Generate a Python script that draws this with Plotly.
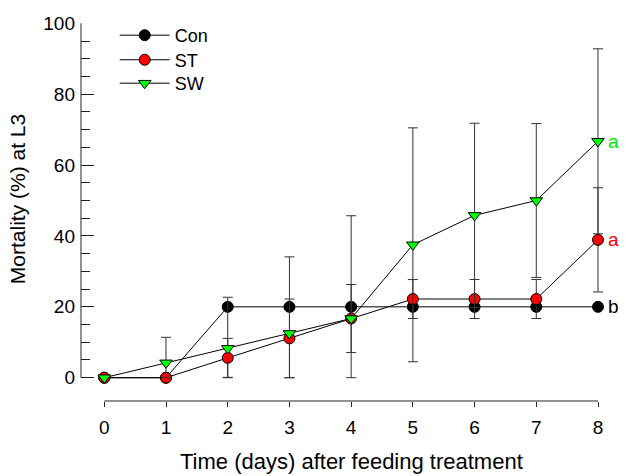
import numpy as np
import plotly.graph_objects as go

days = [0, 1, 2, 3, 4, 5, 6, 7, 8]
con = [0, 0, 20, 20, 20, 20, 20, 20, 20]
con_err = [0, 0, 0, 0, 0, 0, 0, 0, 0]
st = [0, 0, 5.6, 11.1, 16.7, 22.2, 22.2, 22.2, 38.9]
st_err = [0, 0, 5.5, 11.1, 9.6, 5.5, 5.5, 5.5, 14.7]
sw = [0, 4.2, 8.3, 12.5, 16.7, 37.5, 45.8, 50.0, 66.7]
sw_err = [0, 7.2, 14.4, 21.6, 29.0, 33.0, 26.0, 21.7, 26.1]

x_ticks = [0, 1, 2, 3, 4, 5, 6, 7, 8]
y_ticks = [0, 20, 40, 60, 80, 100]
y_minor = [5, 10, 15, 25, 30, 35, 45, 50, 55, 65, 70, 75, 85, 90, 95]

letters = [("b", con[-1], "black"), ("a", st[-1], "#ff0000"), ("a", sw[-1], "#00e800")]

FONT = "Liberation Sans, Arial, sans-serif"

def series(name, y, err, color, symbol, legend):
    y = np.array(y, dtype=float)
    e = np.array(err, dtype=float)
    return go.Scatter(
        x=days, y=y, name=name, mode="lines+markers", legend=legend,
        line=dict(color="black", width=1),
        marker=dict(color=color, symbol=symbol, size=11,
                    line=dict(color="black", width=1)),
        error_y=dict(type="data", symmetric=False, array=e, arrayminus=np.minimum(e, y),
                     color="#333333", thickness=1, width=5),
        cliponaxis=False,
    )

fig = go.Figure()
fig.add_trace(series("Con", con, con_err, "black", "circle", "legend"))
fig.add_trace(series("ST", st, st_err, "#ff0000", "circle", "legend2"))
fig.add_trace(series("SW", sw, sw_err, "#00ff00", "triangle-down", "legend3"))

for txt, yv, col in letters:
    fig.add_annotation(x=days[-1], y=yv, text=txt, showarrow=False, xanchor="left",
                       xshift=8, font=dict(family=FONT, size=19, color=col))

# axis titles
fig.add_annotation(xref="paper", yref="paper", x=0.5056, y=-0.161, text="Time (days) after feeding treatment",
                   showarrow=False, xanchor="center", yanchor="middle", font=dict(family=FONT, size=22))
fig.add_annotation(xref="paper", yref="paper", x=-0.1196, y=0.534, text="Mortality (%) at L3", textangle=-90,
                   showarrow=False, xanchor="center", yanchor="middle", font=dict(family=FONT, size=21))

# axis lines (offset style)
fig.add_shape(type="line", xref="paper", yref="y", x0=0, x1=0, y0=0, y1=100,
              line=dict(color="#222222", width=1))
fig.add_shape(type="line", xref="x", yref="paper", x0=0, x1=8, y0=0, y1=0,
              line=dict(color="#222222", width=1))

leg_common = dict(xanchor="left", yanchor="middle", font=dict(family=FONT, size=18),
                  bgcolor="rgba(0,0,0,0)", itemwidth=50)
fig.update_layout(
    width=626, height=476,
    margin=dict(l=81, r=10, t=23, b=75),
    plot_bgcolor="white", paper_bgcolor="white",
    font=dict(family=FONT, size=19, color="black"),
    showlegend=True,
    legend=dict(x=0.063, y=0.967, **leg_common),
    legend2=dict(x=0.063, y=0.902, **leg_common),
    legend3=dict(x=0.063, y=0.840, **leg_common),
    xaxis=dict(range=[-0.3776, 8.2917], tickvals=x_ticks, ticks="outside", ticklen=5,
               tickcolor="#222222", showline=False, showgrid=False, zeroline=False,
               tickfont=dict(size=19), automargin=False, ticklabelstandoff=4),
    yaxis=dict(range=[-6.57, 100.08], tickvals=y_ticks, ticks="inside", ticklen=13,
               tickcolor="#222222", showline=False, showgrid=False, zeroline=False,
               tickfont=dict(size=19), automargin=False, ticklabelstandoff=5,
               minor=dict(tickvals=y_minor, ticks="inside", ticklen=9, tickcolor="#222222")),
)

fig.write_html("out.html", config={"displayModeBar": False},
               post_script="document.body.style.margin='0';document.body.style.overflow='hidden';")
